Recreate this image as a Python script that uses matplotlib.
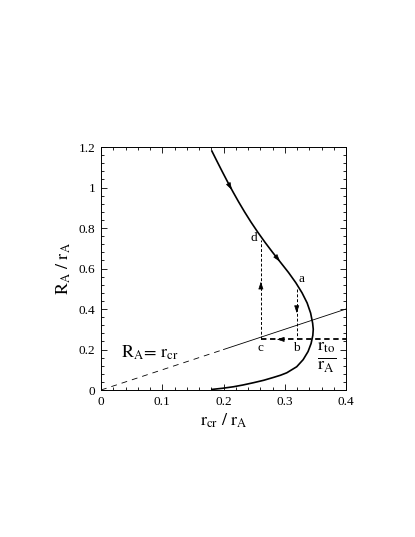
import matplotlib
matplotlib.use("Agg")
import matplotlib.pyplot as plt
from matplotlib.ticker import MultipleLocator

plt.rcParams["font.family"] = ["Liberation Serif", "DejaVu Serif"]
plt.rcParams["mathtext.fontset"] = "stix"

# curve, from the top end down round the nose
curve_y = [1.18, 1.13, 1.08, 1.03, 0.98, 0.93, 0.88, 0.83, 0.78, 0.73, 0.68,
           0.63, 0.58, 0.53, 0.48, 0.43, 0.38, 0.33, 0.30, 0.27, 0.23, 0.19,
           0.15, 0.115, 0.085, 0.073, 0.062, 0.048, 0.036, 0.025, 0.016,
           0.0085, 0.003]
curve_x = [0.181, 0.1893, 0.1977, 0.2063, 0.2152, 0.2245, 0.2343, 0.2447,
           0.2558, 0.2676, 0.2801, 0.2932, 0.3062, 0.3180, 0.3282, 0.3365,
           0.3422, 0.3455, 0.3465, 0.3458, 0.343, 0.338, 0.330, 0.3195,
           0.3032, 0.293, 0.2813, 0.2655, 0.2487, 0.232, 0.216, 0.198, 0.181]

# arrows along the curve: (tail, head)
curve_arrows = [((0.2091, 1.013), (0.2136, 0.988)),
                ((0.2854, 0.660), (0.2922, 0.634))]

# R_A = r_cr line: dashed part then solid part
diag_dashed = [0.0, 0.2]
diag_solid = [0.2, 0.4]

# path a -> b -> c -> d
r_to = 0.25
x_ab = 0.3195
y_a = 0.50
x_cd = 0.261
y_d = 0.742

labels = {"a": (0.323, 0.548), "b": (0.3195, 0.208), "c": (0.2596, 0.208),
          "d": (0.2487, 0.752)}

fig = plt.figure(figsize=(4.15, 5.37), dpi=100)
ax = fig.add_axes([0.2434, 0.2737, 0.5904, 0.4525])

ax.plot(curve_x, curve_y, color="k", lw=1.2)
ax.plot(diag_dashed, diag_dashed, color="k", lw=0.6, dashes=(7, 6))
ax.plot(diag_solid, diag_solid, color="k", lw=0.6)

# dashed path
ax.plot([x_cd, 0.4], [r_to, r_to], color="k", lw=1.3, dashes=(3, 2))
ax.plot([x_ab, x_ab], [y_a, r_to], color="k", lw=0.7, dashes=(3, 2))
ax.plot([x_cd, x_cd], [r_to, y_d], color="k", lw=0.7, dashes=(3, 2))

arrow_kw = dict(arrowstyle="-|>,head_length=0.9,head_width=0.3", color="k",
                lw=0.5, mutation_scale=5, shrinkA=0, shrinkB=0)
for tail, head in curve_arrows:
    ax.annotate("", xy=head, xytext=tail, arrowprops=arrow_kw)
ax.annotate("", xy=(0.287, r_to), xytext=(0.30, r_to), arrowprops=arrow_kw)
ax.annotate("", xy=(x_ab, 0.38), xytext=(x_ab, 0.40), arrowprops=arrow_kw)
ax.annotate("", xy=(x_cd, 0.535), xytext=(x_cd, 0.515), arrowprops=arrow_kw)

for name, (lx, ly) in labels.items():
    ax.text(lx, ly, name, fontsize=9.5, ha="left" if name == "a" else "center",
            va="center")

ax.text(0.08, 0.185, r"$\mathrm{R_A\!=\,r_{cr}}$", fontsize=13, ha="center",
        va="center")
ax.text(0.353, 0.16, r"$\mathrm{\frac{r_{to}}{r_A}}$", fontsize=19, ha="left",
        va="center")

ax.set_xlim(0, 0.4)
ax.set_ylim(0, 1.2)
ax.xaxis.set_minor_locator(MultipleLocator(0.02))
ax.yaxis.set_minor_locator(MultipleLocator(0.04))
ax.set_xticks([0, 0.1, 0.2, 0.3, 0.4])
ax.set_xticklabels(["0", "0.1", "0.2", "0.3", "0.4"])
ax.set_yticks([0, 0.2, 0.4, 0.6, 0.8, 1.0, 1.2])
ax.set_yticklabels(["0", "0.2", "0.4", "0.6", "0.8", "1", "1.2"])
ax.tick_params(which="both", direction="in", top=True, right=True,
               labelsize=9.5, width=0.6)
ax.tick_params(which="major", length=4, pad=4)
ax.tick_params(which="minor", length=2)
for s in ax.spines.values():
    s.set_linewidth(0.7)

ax.set_xlabel(r"$\mathrm{r_{cr}\ /\ r_A}$", fontsize=13, labelpad=3)
ax.set_ylabel(r"$\mathrm{R_A\ /\ r_A}$", fontsize=13, labelpad=4)

fig.savefig("out.png", dpi=100)
